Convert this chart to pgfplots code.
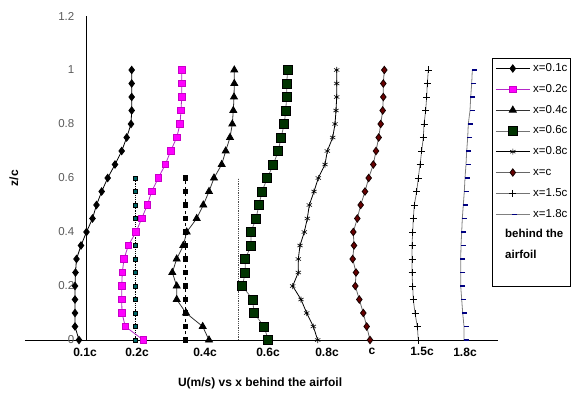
\documentclass[border=0pt]{standalone}
\usepackage{pgfplots}
\pgfplotsset{compat=1.18}
\usepackage{fontspec}
\setmainfont{Liberation Sans}
\definecolor{mag}{RGB}{255,0,255}
\definecolor{magline}{RGB}{180,40,200}
\definecolor{magdraw}{RGB}{200,0,200}
\definecolor{dkgreen}{RGB}{0,51,0}
\definecolor{dkred}{RGB}{102,0,0}
\definecolor{teal2}{RGB}{0,102,102}
\definecolor{navy2}{RGB}{0,0,128}
\definecolor{tickgray}{RGB}{90,90,90}
\begin{document}
\begin{tikzpicture}
\useasboundingbox (0pt,0pt) rectangle (581pt,394pt);
\begin{axis}[
  at={(25pt,54pt)}, anchor=south west,
  scale only axis, width=473pt, height=324pt,
  xmin=-61, xmax=412, ymin=0, ymax=1.2,
  axis x line=bottom, axis y line=middle,
  axis line style={-, black, line width=0.8pt},
  major tick length=0pt,
  ytick={0.2,0.4,0.6,0.8,1,1.2},
  yticklabels={0.2,0.4,0.6,0.8,1,1.2},
  extra y ticks={0},
  extra y tick labels={0},
  extra y tick style={major tick length=0pt},
  yticklabel style={anchor=east, xshift=-8pt, text=tickgray, font=\fontsize{11.5}{13}\selectfont},
  xtick={-1,51,119,182,241,286,336,379},
  xticklabels={\textbf{0.1c},\textbf{0.2c},\textbf{0.4c},\textbf{0.6c},\textbf{0.8c},\textbf{c},\textbf{1.5c},\textbf{1.8c}},
  xticklabel style={anchor=north, yshift=-4pt, font=\fontsize{12}{13}\selectfont},
  xlabel={\textbf{U(m/s) vs x behind the airfoil}},
  ylabel={\textbf{z/c}},
  every axis x label/.style={at={(axis description cs:0.497,-0.1327)}, anchor=center, font=\fontsize{12}{13}\selectfont},
  every axis y label/.style={at={(axis description cs:-0.0233,0.5)}, rotate=90, anchor=center, font=\fontsize{12}{13}\selectfont},
  clip=false,
  legend cell align=left,
  legend image code/.code={\draw[mark repeat=2,mark phase=2] plot coordinates {(0pt,0pt) (17pt,0pt) (34pt,0pt)};},
  legend style={at={(axis description cs:0.9873,0.870)}, anchor=north west, draw=black, line width=0.8pt,
    inner xsep=3pt, inner ysep=5pt, row sep=10.8pt, column sep=3pt,
    nodes={inner sep=0pt, text height=8pt, text depth=2pt},
    font=\fontsize{11.5}{13}\selectfont},
  line width=0.8pt,
]
% reference vertical lines
\addplot[forget plot, black, densely dotted, mark=square*, mark size=2pt, mark options={solid, fill=teal2, draw=black}] coordinates {
(49.5,0) (49.5,0.05) (49.5,0.1) (49.5,0.15) (49.5,0.2) (49.5,0.25) (49.5,0.3) (49.5,0.35) (49.5,0.4) (49.5,0.45) (49.5,0.5) (49.5,0.55) (49.5,0.6)};
\addplot[forget plot, black, dashed, mark=square*, mark size=2.2pt, mark options={solid, fill=black}] coordinates {
(99.3,0) (99.3,0.05) (99.3,0.1) (99.3,0.15) (99.3,0.2) (99.3,0.25) (99.3,0.3) (99.3,0.35) (99.3,0.4) (99.3,0.45) (99.3,0.5) (99.3,0.55) (99.3,0.6)};
\addplot[forget plot, black!70, densely dotted] coordinates {
(152,0) (152,0.1) (152,0.2) (152,0.3) (152,0.4) (152,0.5) (152,0.6)};
% x=0.1c
\addplot[black, mark=diamond*, mark size=3.7pt, mark options={fill=black, draw=black}] coordinates {
(-7,0) (-11,0.05) (-11,0.1) (-11,0.15) (-11,0.2) (-10.5,0.25) (-9.5,0.3) (-5,0.35) (0.5,0.4) (6.5,0.45) (10.5,0.5) (15.7,0.55) (21.7,0.6) (29,0.65) (35.7,0.7) (40.7,0.75) (45,0.8) (45.7,0.85) (45.7,0.9) (45.7,0.95) (45.7,1)};
\addlegendentry{x=0.1c}
% x=0.2c
\addplot[magline, mark=square*, mark size=3.2pt, mark options={fill=mag, draw=magdraw}] coordinates {
(57.3,0) (39.3,0.05) (36,0.1) (35.7,0.15) (35.7,0.2) (36.3,0.25) (38,0.3) (42.3,0.35) (50,0.4) (55.7,0.45) (61.3,0.5) (65.7,0.55) (72.3,0.6) (79.3,0.65) (84.7,0.7) (90.7,0.75) (94,0.8) (95,0.85) (95.7,0.9) (95.7,0.95) (95.7,1)};
\addlegendentry{x=0.2c}
% x=0.4c
\addplot[black!80, mark=triangle*, mark size=4pt, mark options={fill=black, draw=black}] coordinates {
(123,0) (116.7,0.05) (100,0.1) (90.7,0.15) (90.7,0.2) (86.3,0.25) (90.7,0.3) (97.3,0.35) (100.7,0.4) (110.7,0.45) (117.3,0.5) (123,0.55) (128,0.6) (135.7,0.65) (139.7,0.7) (144,0.75) (146.3,0.8) (147.3,0.85) (148,0.9) (148.3,0.95) (148.3,1)};
\addlegendentry{x=0.4c}
% x=0.6c
\addplot[black!55, mark=square*, mark size=4.5pt, mark options={fill=dkgreen, draw=black, line width=0.9pt}] coordinates {
(182.3,0) (178,0.05) (168,0.1) (166.7,0.15) (156.3,0.2) (159.3,0.25) (159.3,0.3) (165,0.35) (165,0.4) (170,0.45) (173,0.5) (176,0.55) (181.3,0.6) (187.3,0.65) (192.3,0.7) (195,0.75) (198.3,0.8) (199.7,0.85) (200.7,0.9) (200.7,0.95) (201.7,1)};
\addlegendentry{x=0.6c}
% x=0.8c
\addplot[black, mark=asterisk, mark size=3pt, mark options={draw=black, line width=0.6pt}] coordinates {
(231.7,0) (227.3,0.05) (220.7,0.1) (215,0.15) (206.7,0.2) (212.3,0.25) (212.3,0.3) (214,0.35) (218.3,0.4) (221.3,0.45) (223.3,0.5) (228,0.55) (232.3,0.6) (239,0.65) (241.3,0.7) (246.7,0.75) (249,0.8) (250,0.85) (250.7,0.9) (250.7,0.95) (250.7,1)};
\addlegendentry{x=0.8c}
% x=c
\addplot[black!60, mark=diamond*, mark size=3.7pt, mark options={fill=dkred, draw=black!80!dkred}] coordinates {
(284,0) (280.7,0.05) (277.3,0.1) (273.3,0.15) (269.3,0.2) (270,0.25) (266.7,0.3) (268,0.35) (267.3,0.4) (271.3,0.45) (274.7,0.5) (279,0.55) (282.7,0.6) (287.3,0.65) (290,0.7) (292.7,0.75) (294.7,0.8) (296.7,0.85) (297.3,0.9) (297.3,0.95) (298.3,1)};
\addlegendentry{x=c}
% x=1.5c
\addplot[black!55, mark=+, mark size=3.5pt, mark options={draw=black, line width=0.7pt}] coordinates {
(332.3,0) (331.3,0.05) (329,0.1) (327.3,0.15) (326.7,0.2) (326,0.25) (326,0.3) (326,0.35) (326.7,0.4) (327.3,0.45) (328.3,0.5) (330.7,0.55) (332.3,0.6) (334,0.65) (335.7,0.7) (337.3,0.75) (338,0.8) (339.7,0.85) (340.7,0.9) (341.3,0.95) (342.3,1)};
\addlegendentry{x=1.5c}
% x=1.8c
\addplot[black!50, mark=-, mark size=2.5pt, mark options={draw=navy2, line width=1.2pt, xshift=2pt}] coordinates {
(378,0) (378,0.05) (376.7,0.1) (375.7,0.15) (374.7,0.2) (374.7,0.25) (374.7,0.3) (375,0.35) (375.7,0.4) (376.3,0.45) (377.3,0.5) (378.3,0.55) (379,0.6) (380,0.65) (380.7,0.7) (381.7,0.75) (382.3,0.8) (384,0.85) (384.7,0.9) (385.7,0.95) (386.3,1)};
\addlegendentry{x=1.8c}
\addlegendimage{empty legend}
\addlegendentry{\hspace{-28pt}\textbf{behind the}}
\addlegendimage{empty legend}
\addlegendentry{\hspace{-28pt}\textbf{airfoil}}
\addlegendimage{empty legend}
\addlegendentry{}
\end{axis}
\end{tikzpicture}
\end{document}
